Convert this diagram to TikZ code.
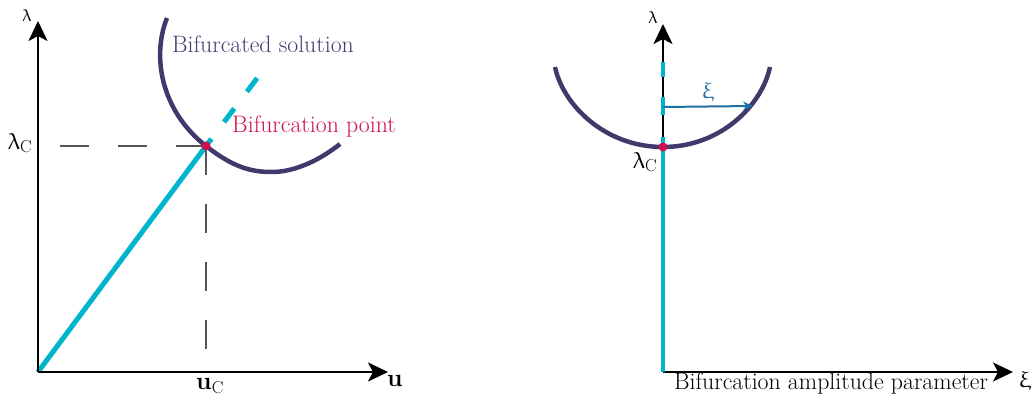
\documentclass[tikz,border=0pt]{standalone}
\usepackage{amsmath}
\usepackage[Euler]{upgreek}
\usetikzlibrary{arrows.meta}
\definecolor{curvepurple}{HTML}{3F3A6B}
\definecolor{textpurple}{HTML}{403E72}
\definecolor{bifcyan}{HTML}{00B4CC}
\definecolor{bifred}{HTML}{D0104C}
\definecolor{xiblue}{HTML}{1F6FA6}
\definecolor{dashgray}{HTML}{555555}
\begin{document}
\begin{tikzpicture}[x=1pt,y=-1pt,
  axis/.style={line width=2.5pt,-{Stealth[length=20pt,width=19pt,inset=5pt]}},
  solcurve/.style={line width=4.5pt,curvepurple},
  primary/.style={line width=5pt,bifcyan},
  guide/.style={line width=2pt,dashgray,dash pattern=on 29pt off 29pt},
  bigtext/.style={font=\fontsize{23.8}{28}\selectfont,inner sep=0pt},
  mathlbl/.style={font=\fontsize{23}{27}\selectfont,inner sep=0pt},
  bpdot/.style={circle,fill=bifred,inner sep=0pt,minimum size=9pt}]
\useasboundingbox (0,0) rectangle (1033,403);
% ---------- left panel ----------
\coordinate (O1) at (38,372);
\coordinate (Y1) at (38,21);
\coordinate (X1) at (388,372);
\coordinate (BP1) at (206,146);
\coordinate (Cext) at (258,77);
\coordinate (Lc) at (60,146);
\coordinate (Uc) at (206,353);
\draw[guide] (Lc) -- (BP1);
\draw[guide] (BP1) -- (Uc);
\draw[primary] (O1) -- (BP1);
\draw[primary,dash pattern=on 9pt off 21pt on 17pt off 21pt on 17pt off 30pt] (BP1) -- (Cext);
\draw[solcurve] (167,18) .. controls (152,55) and (160,110) .. (BP1)
  .. controls (234,168) and (252,172) .. (272,172)
  .. controls (295,172) and (320,160) .. (340,144);
\draw[axis] (O1) -- (Y1);
\draw[axis] (O1) -- (X1);
\node[bpdot] (bp1) at (BP1) {};
\node[mathlbl,font=\fontsize{17}{20}\selectfont] (lam1) at (27,16) {$\uplambda$};
\node[mathlbl] (lamc1) at (20,143) {$\uplambda_{\mathrm{C}}$};
\node[mathlbl] (uc) at (210,386) {$\mathbf{u}_{\mathrm{C}}$};
\node[mathlbl] (u) at (395,381) {$\mathbf{u}$};
\node[bigtext,text=textpurple,anchor=base] (bs) at (263,53) {Bifurcated solution};
\node[bigtext,text=bifred,anchor=base] (bpt) at (314,133) {Bifurcation point};
% ---------- right panel ----------
\coordinate (O2) at (663,372);
\coordinate (Y2) at (663,24);
\coordinate (X2) at (1013,372);
\coordinate (BP2) at (663,147);
\coordinate (Dtop) at (663,62);
\coordinate (XiS) at (663,107);
\coordinate (XiE) at (753,106);
\draw[axis,line width=2pt] (O2) -- (Y2);
\draw[axis,line width=2pt] (O2) -- (X2);
\draw[line width=4pt,bifcyan] (O2) -- (BP2);
\draw[line width=4pt,bifcyan,dash pattern=on 10pt off 22pt on 18pt off 20pt on 15pt off 30pt] (BP2) -- (Dtop);
\draw[solcurve] (555,67) .. controls (563,105) and (605,147) .. (BP2)
  .. controls (721,147) and (762,105) .. (770,67);
\draw[line width=2pt,xiblue,-{Stealth[length=10pt,width=9pt]}] (XiS) -- (XiE);
\node[bpdot] (bp2) at (BP2) {};
\node[mathlbl,font=\fontsize{17}{20}\selectfont] (lam2) at (653,18) {$\uplambda$};
\node[mathlbl] (lamc2) at (645,162) {$\uplambda_{\mathrm{C}}$};
\node[mathlbl,text=xiblue] (xi1) at (708,92) {$\upxi$};
\node[mathlbl] (xi2) at (1025,381) {$\upxi$};
\node[bigtext,anchor=base] (bap) at (831,389) {Bifurcation amplitude parameter};
\end{tikzpicture}
\end{document}
